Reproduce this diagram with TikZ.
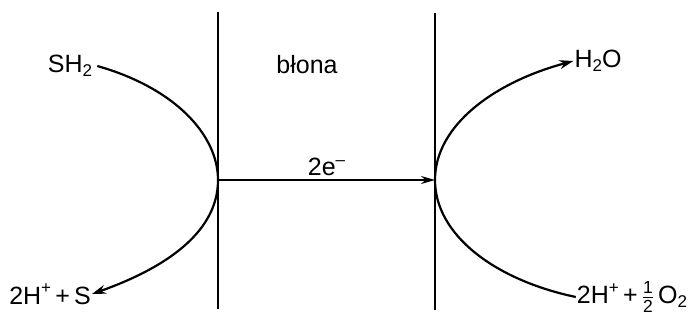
\documentclass[tikz,border=0pt]{standalone}
\usepackage{amsmath}
\usepackage{fontspec}
\setmainfont{Liberation Sans}
\usetikzlibrary{arrows.meta}
\usetikzlibrary{positioning}
\newcommand{\lowtxt}[1]{\raisebox{-0.3ex}{\fontsize{17}{17}\selectfont #1}}
\newcommand{\hightxt}[1]{\raisebox{0.8ex}{\fontsize{17}{17}\selectfont #1}}

\begin{document}
\begin{tikzpicture}[x=1pt, y=-1pt,
    label/.style={inner sep=1pt, font=\fontsize{25}{28}\selectfont},
    wall/.style={line width=1.8pt},
    path/.style={line width=2.2pt, -{Stealth[length=14pt, width=9pt]}}]
        \useasboundingbox (0,0) rectangle (695,320);
        % membrane
        \draw[wall] (218,12) -- (218,309);
        \draw[wall] (435,13) -- (435,310);
        \coordinate (lm) at (218,180);
        \coordinate (rm) at (435,180);
        \node[label] (blona) at (307,65) {błona};
        % substrates and products
        \node[label] (sh) at (70,66) {SH\lowtxt{2}};
        \node[label] (hs) at (50,294) {2H\hightxt{+}\,+\,S};
        \node[label] (wat) at (598,61) {H\lowtxt{2}O};
        \node[label] (ho) at (632,297) {2H\hightxt{+}\,+\,$\frac{\text{1}}{\text{2}}$\,O\lowtxt{2}};
        % left side
        \draw[line width=2.2pt] (sh.east) ++(4,0) coordinate (sha)
            .. controls (175,88) and (218,135) .. (lm);
        \draw[path] (lm) .. controls (218,235) and (160,270) .. (hs.east);
        % electrons
        \draw[wall, -{Stealth[length=14pt, width=8pt]}] (lm) -- node[label, above=2pt] (el) {2e\hightxt{--}} (rm);
        % right side
        \draw[path] (rm) .. controls (435,125) and (495,82) .. (wat.west);
        \draw[line width=2.2pt] (rm) .. controls (435,235) and (495,280) .. (ho.west);
\end{tikzpicture}
\end{document}
